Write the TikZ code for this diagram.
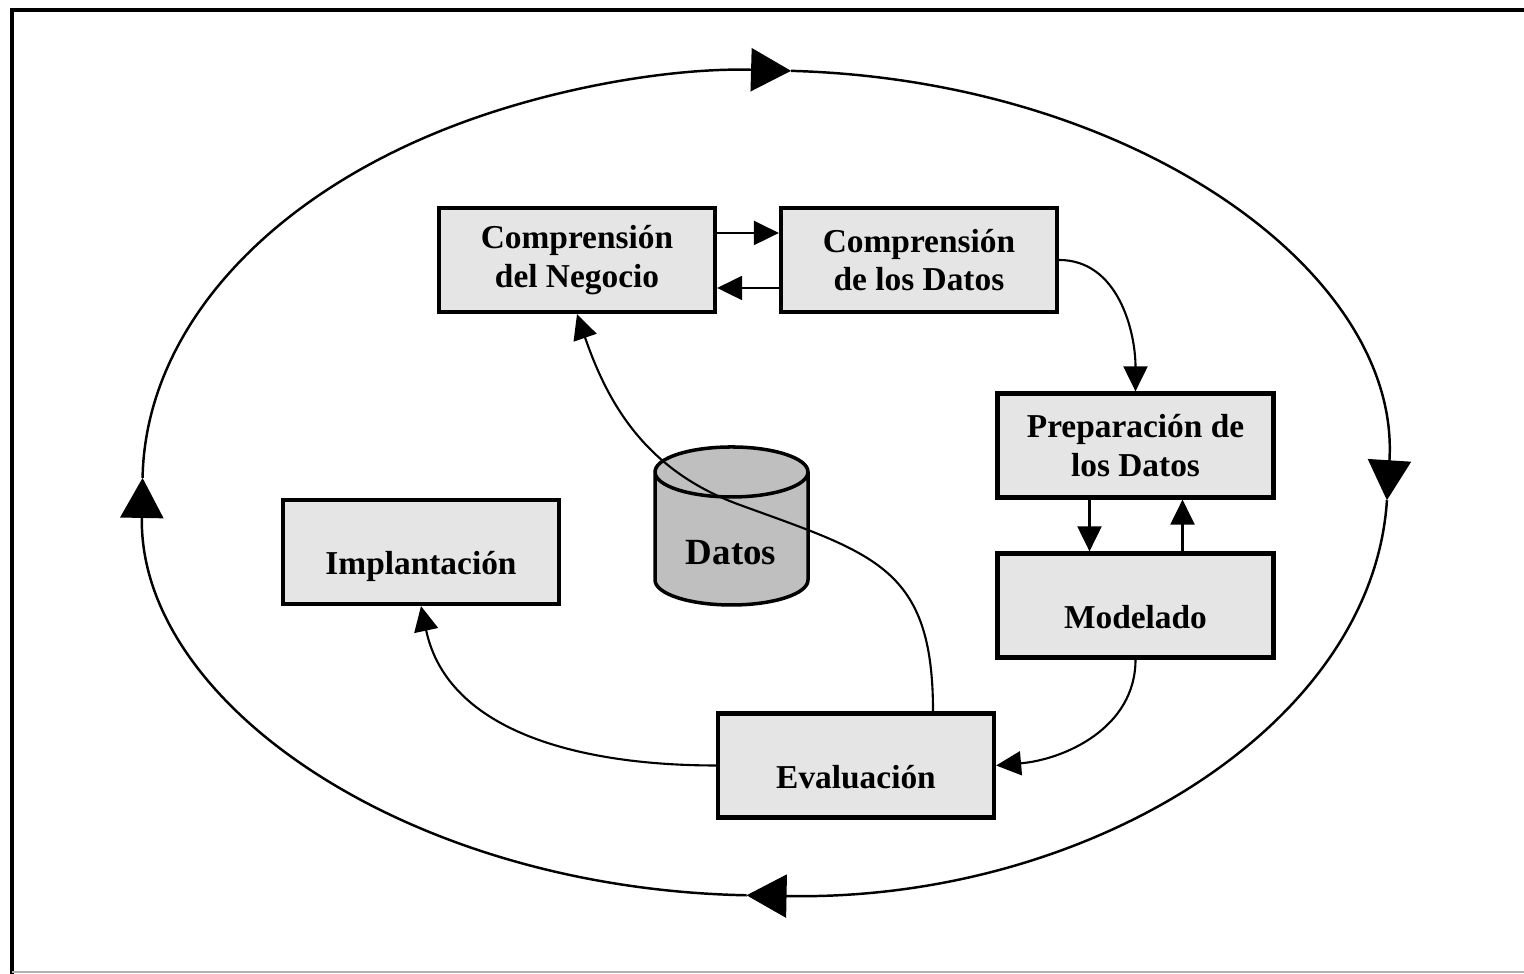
\documentclass[tikz,border=0pt]{standalone}
\usepackage{fontspec}
\setmainfont{Liberation Serif}
\usetikzlibrary{arrows.meta}
\definecolor{kastengrau}{gray}{0.9}
\definecolor{datengrau}{gray}{0.75}
\begin{document}
\begin{tikzpicture}[line width=0.6pt, >={Triangle[length=2.5mm,width=2.4mm]},
	kasten/.style={draw, line width=1.2pt, fill=kastengrau, minimum width=2.76cm, minimum height=1.04cm, inner sep=0pt, align=center, font=\fontsize{9.5}{11}\selectfont\bfseries},
	einzeilig/.style={text height=13pt, text depth=0pt}]
	\useasboundingbox (0,0) rectangle (15.24,9.74);
	%%Rahmen
		\draw [line width=1.2pt] (15.24,9.64) -- (0.12,9.64) -- (0.12,0);
		\draw [line width=0.6pt, black!30] (0.12,0.02) -- (15.24,0.02);
	%%Zyklus
	\foreach \a/\b in {179.3/87.6, 87.6/-2.4, -2.4/-91.7, -91.7/-180.7}
		\draw [line width=0.7pt, -{Triangle[length=4mm,width=4.3mm]}] (7.65,4.91) ++(\a:6.225cm and 4.125cm) arc[start angle=\a, end angle=\b, x radius=6.225cm, y radius=4.125cm];
	%%Datenbank
		\fill [datengrau] (6.55,5.02) -- (6.55,3.94) arc[start angle=180, end angle=360, x radius=0.765, y radius=0.25] -- (8.08,5.02) arc[start angle=0, end angle=180, x radius=0.765, y radius=0.25];
		\draw [line width=1pt] (6.55,5.02) -- (6.55,3.94) arc[start angle=180, end angle=360, x radius=0.765, y radius=0.25] -- (8.08,5.02) arc[start angle=0, end angle=360, x radius=0.765, y radius=0.25];
		\node [font=\fontsize{10.5}{12}\selectfont\bfseries] (datos) at (7.31,4.21) {Datos};
	%%Kaesten
		\node [kasten] (cn) at (5.77,7.14) {Comprensión\\del Negocio};
		\node [kasten] (cd) at (9.19,7.14) {Comprensión\\de los Datos};
		\node [kasten] (pd) at (11.355,5.285) {Preparación de\\los Datos};
		\node [kasten, einzeilig] (mo) at (11.355,3.685) {Modelado};
		\node [kasten, einzeilig] (im) at (4.21,4.22) {Implantación};
		\node [kasten, einzeilig] (ev) at (8.56,2.085) {Evaluación};
		\coordinate (umweg) at (7.4,4.69);
	%%Pfeile
	\draw [->] ([yshift=2.7mm]cn.east) -- ([yshift=2.7mm]cd.west);
	\draw [->] ([yshift=-2.8mm]cd.west) -- ([yshift=-2.8mm]cn.east);
	\draw [->] (cd.east) to[out=0,in=90] (pd.north);
	\draw [->] ([xshift=-4.6mm]pd.south) -- ([xshift=-4.6mm]mo.north);
	\draw [->] ([xshift=4.7mm]mo.north) -- ([xshift=4.7mm]pd.south);
	\draw [->] (mo.south) to[out=-90,in=5] (ev.east);
	\draw [->] ([xshift=7.7mm]ev.north) to[out=90,in=-20,looseness=1.3] (umweg) to[out=160,in=-71] (cn.south);
	\draw [->] (ev.west) to[out=180,in=-78] (im.south);
\end{tikzpicture}
\end{document}
